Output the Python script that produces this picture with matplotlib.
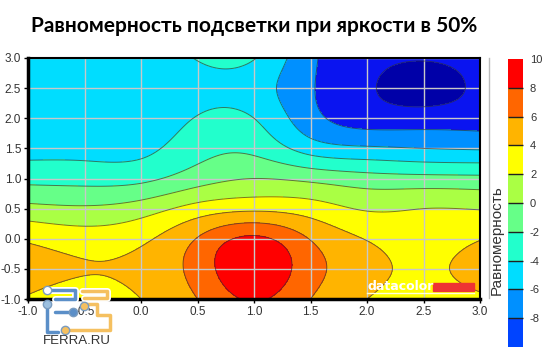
import numpy as np
import matplotlib
matplotlib.use('Agg')
import matplotlib.pyplot as plt
from matplotlib.colors import ListedColormap, BoundaryNorm
from matplotlib.colorbar import ColorbarBase
from matplotlib.lines import Line2D
from matplotlib.patches import Rectangle

# measured uniformity on a 0.5 grid (rows: y from -1 to 3, cols: x from -1 to 3)
x_vals = [-1.0, -0.5, 0.0, 0.5, 1.0, 1.5, 2.0, 2.5, 3.0]
y_vals = [-1.0, -0.5, 0.0, 0.5, 1.0, 1.5, 2.0, 2.5, 3.0]
z_rows = [
    [3.8, 3.0, 4.0, 6.0, 8.2, 6.0, 4.0, 3.0, 3.5],
    [4.8, 4.1, 4.5, 6.8, 9.6, 6.8, 4.7, 3.6, 5.0],
    [3.7, 3.0, 3.6, 6.1, 8.4, 5.9, 3.9, 3.1, 3.9],
    [0.6, 0.3, 1.0, 2.8, 3.6, 3.0, 1.8, 2.0, 1.9],
    [-2.6, -2.7, -2.5, -0.9, 0.0, -0.5, -1.2, -1.4, -1.5],
    [-4.6, -4.6, -4.5, -2.8, -2.5, -4.9, -5.7, -6.0, -6.2],
    [-5.2, -5.2, -5.2, -3.9, -4.0, -7.3, -8.9, -9.0, -8.8],
    [-5.4, -5.4, -5.3, -4.6, -5.0, -7.8, -9.7, -11.0, -9.4],
    [-5.3, -5.3, -5.0, -3.9, -3.9, -7.6, -9.3, -9.8, -9.0],
]
levels = [-12, -10, -8, -6, -4, -2, 0, 2, 4, 6, 8, 10]
fill_colors = ['#0000A8', '#0A14F0', '#0090FF', '#00DDFF', '#22FFCC', '#66FF88',
               '#AAFF44', '#FFFF00', '#FFB400', '#FF6600', '#FF0000']
cbar_bounds = [-9.1, -8, -6, -4, -2, 0, 2, 4, 6, 8, 10]
cbar_colors = ['#0044FF', '#0090FF', '#00DDFF', '#22FFCC', '#66FF88',
               '#AAFF44', '#FFFF00', '#FFB400', '#FF6600', '#FF0000']


def spline_matrix(xk, xf):
    # natural cubic spline as a linear map from knot values to xf values
    xk = np.asarray(xk)
    n = len(xk)
    h = xk[1] - xk[0]
    M = np.zeros((len(xf), n))
    for j in range(n):
        yk = np.zeros(n)
        yk[j] = 1.0
        A = np.zeros((n, n))
        b = np.zeros(n)
        A[0, 0] = A[-1, -1] = 1.0
        for i in range(1, n - 1):
            A[i, i - 1:i + 2] = [1, 4, 1]
            b[i] = 6 / h ** 2 * (yk[i + 1] - 2 * yk[i] + yk[i - 1])
        m = np.linalg.solve(A, b)
        idx = np.clip(((xf - xk[0]) // h).astype(int), 0, n - 2)
        t0 = xf - xk[idx]
        t1 = xk[idx + 1] - xf
        M[:, j] = (m[idx] * t1 ** 3 + m[idx + 1] * t0 ** 3) / (6 * h) \
            + (yk[idx] / h - m[idx] * h / 6) * t1 + (yk[idx + 1] / h - m[idx + 1] * h / 6) * t0
    return M


plt.rcParams['font.family'] = ['Liberation Sans', 'DejaVu Sans']
plt.rcParams['axes.unicode_minus'] = False

W, H = 550, 356
fig = plt.figure(figsize=(W / 100, H / 100), dpi=100)
ax = fig.add_axes([28 / W, 1 - 299 / H, (480 - 28) / W, (299 - 58) / H])

xf = np.linspace(-1, 3, 301)
yf = np.linspace(-1, 3, 301)
ZF = spline_matrix(y_vals, yf) @ np.array(z_rows) @ spline_matrix(x_vals, xf).T

ax.contourf(xf, yf, ZF, levels=levels, colors=fill_colors)
ax.contour(xf, yf, ZF, levels=levels, colors='#303030', linewidths=0.7,
           alpha=0.65, linestyles='solid')

ax.set_xlim(-1, 3)
ax.set_ylim(-1, 3)
ticks = np.arange(-1, 3.01, 0.5)
ax.set_xticks(ticks)
ax.set_yticks(ticks)
ax.set_xticklabels(['%.1f' % t for t in ticks])
ax.set_yticklabels(['%.1f' % t for t in ticks])
ax.grid(True, color='#C8C8C8', linewidth=1)
ax.tick_params(labelsize=8.5, labelcolor='#333333', length=3, width=1, pad=2)
for side in ['left', 'bottom']:
    ax.spines[side].set_linewidth(2.5)
for side in ['top', 'right']:
    ax.spines[side].set_linewidth(1.5)

# datacolor mark
ax.text(2.0, -0.79, 'datacolor', color='white', fontsize=9, fontweight='bold',
        ha='left', va='center', family='DejaVu Sans', zorder=6)
ax.add_patch(Rectangle((2.58, -0.867), 0.37, 0.133, color='#EE3333', zorder=5))
ax.plot([2.0, 2.95], [-0.9, -0.9], color='#FFFFDD', lw=1, zorder=5)

# colorbar
cax = fig.add_axes([508 / W, 1 - 347 / H, 15 / W, (347 - 59) / H])
cb = ColorbarBase(cax, cmap=ListedColormap(cbar_colors),
                  norm=BoundaryNorm(cbar_bounds, len(cbar_colors)),
                  boundaries=cbar_bounds, ticks=list(range(-8, 11, 2)),
                  drawedges=True)
cb.outline.set_visible(False)
cb.dividers.set_color('#202020')
cb.dividers.set_linewidth(1)
cax.minorticks_off()
cax.tick_params(labelsize=8, labelcolor='#333333', length=0, pad=5)
fig.text(497 / W, 1 - 240 / H, 'Равномерность', rotation=90, fontsize=11,
         color='#333333', ha='center', va='center')
fig.add_artist(Line2D([489 / W, 489 / W], [1 - 58 / H, 1 - 298 / H], color='#BBBBBB', lw=1))

fig.suptitle('Равномерность подсветки при яркости в 50%', x=254 / W, y=1 - 26 / H,
             fontsize=15, fontweight='bold', family='Lato', va='center')


# FERRA.RU watermark
def fpt(px, py):
    return px / W, 1 - py / H


blue_paths = [[(47, 290), (75, 290), (75, 299), (55, 299)],
              [(47, 304), (47, 332), (58, 332)],
              [(55, 312), (73, 312)]]
orange_paths = [[(82, 291), (107, 291), (107, 298), (84, 298)],
                [(85, 304), (97, 304), (97, 315), (110, 315), (110, 330), (65, 330)]]
for paths, c in [(blue_paths, '#5B8FC8'), (orange_paths, '#F5C060')]:
    for p in paths:
        xs, ys = zip(*[fpt(a, b) for a, b in p])
        fig.add_artist(Line2D(xs, ys, color='white', lw=5, solid_capstyle='round'))
        fig.add_artist(Line2D(xs, ys, color=c, lw=2.5, solid_capstyle='round'))
for (a, b), c in [((47, 290), 'white'), ((47, 304), '#9CC0E0'), ((73, 312), '#5B8FC8'),
                  ((84, 306), '#F5C060'), ((65, 330), '#F5C060')]:
    fx, fy = fpt(a, b)
    fig.add_artist(Line2D([fx], [fy], marker='o', markersize=6, color=c,
                          markeredgecolor='#7A9CC0'))
fig.text(77 / W, 1 - 341 / H, 'FERRA.RU', fontsize=9.5, color='#333333',
         ha='center', va='center')

fig.savefig('out.png', dpi=100)
